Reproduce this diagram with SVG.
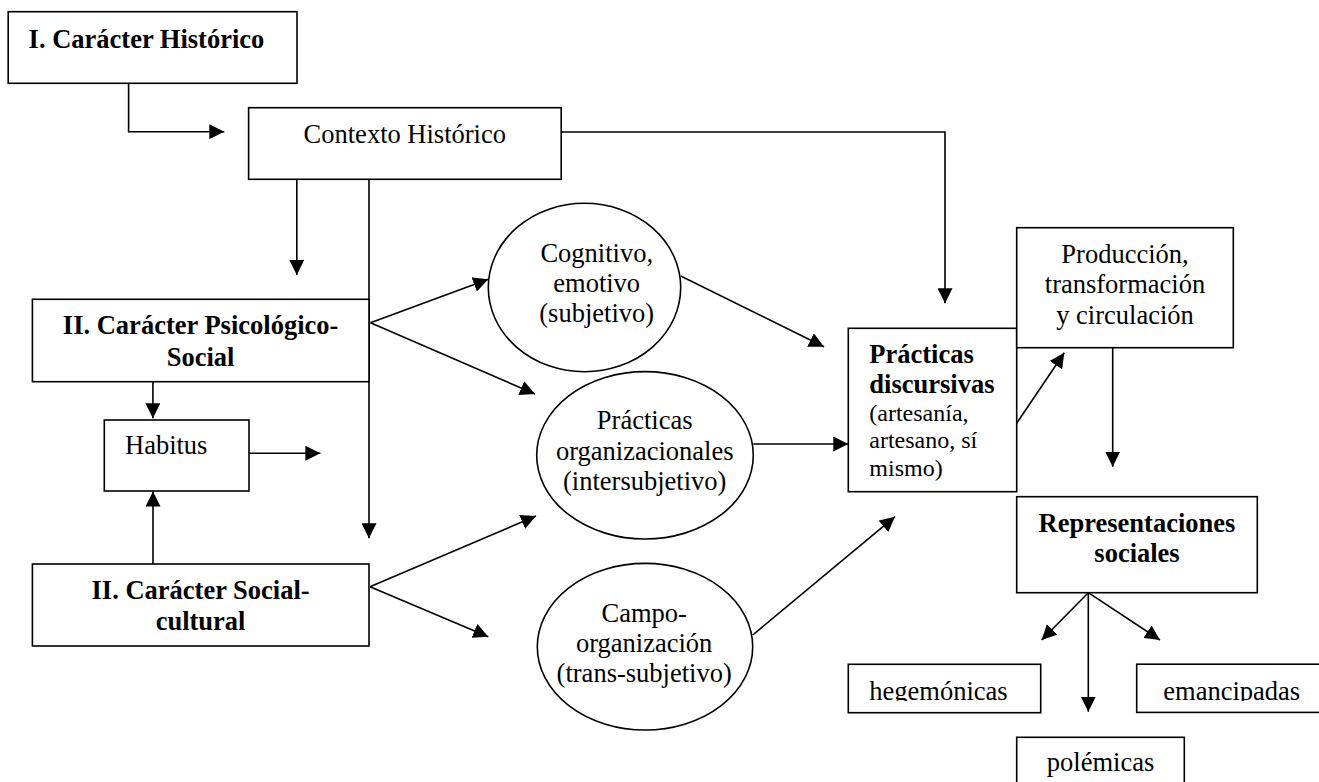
<svg xmlns="http://www.w3.org/2000/svg" width="1319" height="782" viewBox="0 0 1319 782">
<style>
  .box { fill: #fff; stroke: #000; stroke-width: 1.6; }
  .ell { fill: #fff; stroke: #000; stroke-width: 1.6; }
  .t { font-family: "Liberation Serif", "Times New Roman", serif; font-size: 26.5px; fill: #000; }
  .b { font-weight: bold; }
  .s { font-size: 24px; }
  .m { text-anchor: middle; }
  .c { fill: none; stroke: #000; stroke-width: 1.6; }
  .a { marker-end: url(#ah); }
</style>
<defs>
  <marker id="ah" markerUnits="userSpaceOnUse" markerWidth="16" markerHeight="15" refX="15" refY="7.5" orient="auto" viewBox="0 0 16 15">
    <path d="M0,0 L15,7.5 L0,15 z" fill="#000"/>
  </marker>
  <clipPath id="clipTxt"><rect x="0" y="0" width="1319" height="701"/></clipPath>
</defs>
<rect width="1319" height="782" fill="#fff"/>

<g id="connectors">
  <path class="c a" d="M128.6,83.3 V131.7 H224.3"/>
  <path class="c a" d="M296.8,179.3 V275"/>
  <path class="c a" d="M369,179.3 V538.3"/>
  <path class="c a" d="M561.2,132 H945 V303.3"/>
  <path class="c a" d="M152.9,381.7 V418.3"/>
  <path class="c a" d="M153,564 V491.5"/>
  <path class="c a" d="M249,453.3 H320.4"/>
  <path class="c a" d="M370.5,322.7 L488.3,279.3"/>
  <path class="c a" d="M370.5,322.7 L535,394"/>
  <path class="c a" d="M370,586.7 L536,516"/>
  <path class="c a" d="M370,586.7 L488.3,636.7"/>
  <path class="c a" d="M680.7,276 L824,346.7"/>
  <path class="c a" d="M753.3,444 L848.3,444"/>
  <path class="c a" d="M752.7,635 L895,516.7"/>
  <path class="c a" d="M1016.7,423.3 L1064.3,352.7"/>
  <path class="c a" d="M1112.7,347.7 V466.7"/>
  <path class="c a" d="M1088.3,592.7 L1041.7,640"/>
  <path class="c a" d="M1088.3,592.7 V711.7"/>
  <path class="c a" d="M1088.3,592.7 L1160,640"/>
</g>

<g id="caracter-historico">
  <rect class="box" x="8.2" y="11.7" width="288.8" height="71.6"/>
  <text class="t b" x="28.6" y="48.3">I. Carácter Histórico</text>
</g>

<g id="contexto-historico">
  <rect class="box" x="248.6" y="107.7" width="312.6" height="71.6"/>
  <text class="t m" x="404.8" y="143.3">Contexto Histórico</text>
</g>

<g id="caracter-psicologico-social">
  <rect class="box" x="32.4" y="299.3" width="336.6" height="82.4"/>
  <text class="t b m" x="200.6" y="334">II. Carácter Psicológico-</text>
  <text class="t b m" x="200.6" y="365.7">Social</text>
</g>

<g id="habitus">
  <rect class="box" x="104.3" y="420" width="144.7" height="71"/>
  <text class="t" x="125" y="454.3">Habitus</text>
</g>

<g id="caracter-social-cultural">
  <rect class="box" x="32.4" y="564" width="336.6" height="82"/>
  <text class="t b m" x="200.6" y="599.3">II. Carácter Social-</text>
  <text class="t b m" x="200.6" y="630">cultural</text>
</g>

<g id="cognitivo">
  <ellipse class="ell" cx="584.5" cy="287.5" rx="96.2" ry="84.2"/>
  <text class="t m" x="596.7" y="261.7">Cognitivo,</text>
  <text class="t m" x="596.7" y="292">emotivo</text>
  <text class="t m" x="596.7" y="322.3">(subjetivo)</text>
</g>

<g id="practicas-organizacionales">
  <ellipse class="ell" cx="645" cy="455.3" rx="108.3" ry="83.7"/>
  <text class="t m" x="644.7" y="429.3">Prácticas</text>
  <text class="t m" x="644.7" y="460">organizacionales</text>
  <text class="t m" x="644.7" y="490.3">(intersubjetivo)</text>
</g>

<g id="campo-organizacion">
  <ellipse class="ell" cx="645" cy="646.7" rx="107.7" ry="83.3"/>
  <text class="t m" x="644.2" y="621.7">Campo-</text>
  <text class="t m" x="644.2" y="651.7">organización</text>
  <text class="t m" x="644.2" y="681.7">(trans-subjetivo)</text>
</g>

<g id="practicas-discursivas">
  <rect class="box" x="848.3" y="328.3" width="168.4" height="163.4"/>
  <text class="t b" x="869.3" y="363.3">Prácticas</text>
  <text class="t b" x="869.3" y="393.3">discursivas</text>
  <text class="t s" x="869.3" y="420.7">(artesanía,</text>
  <text class="t s" x="869.3" y="448.2">artesano, sí</text>
  <text class="t s" x="869.3" y="475.5">mismo)</text>
</g>

<g id="produccion">
  <rect class="box" x="1016.7" y="227.7" width="216.6" height="120"/>
  <text class="t m" x="1125" y="262.7">Producción,</text>
  <text class="t m" x="1125" y="293.3">transformación</text>
  <text class="t m" x="1125" y="324">y circulación</text>
</g>

<g id="representaciones-sociales">
  <rect class="box" x="1016.7" y="496.7" width="240.6" height="96"/>
  <text class="t b m" x="1137" y="531.7">Representaciones</text>
  <text class="t b m" x="1137" y="561.7">sociales</text>
</g>

<g id="hegemonicas">
  <rect class="box" x="848.3" y="664.3" width="192.4" height="48.4"/>
  <text class="t" x="869.3" y="699.5" clip-path="url(#clipTxt)">hegemónicas</text>
</g>

<g id="emancipadas">
  <rect class="box" x="1136.7" y="664.2" width="200" height="48.2"/>
  <text class="t" x="1163.3" y="699.5" clip-path="url(#clipTxt)">emancipadas</text>
</g>

<g id="polemicas">
  <rect class="box" x="1016.7" y="737.3" width="167.6" height="60"/>
  <text class="t m" x="1100.5" y="771">polémicas</text>
</g>
</svg>
